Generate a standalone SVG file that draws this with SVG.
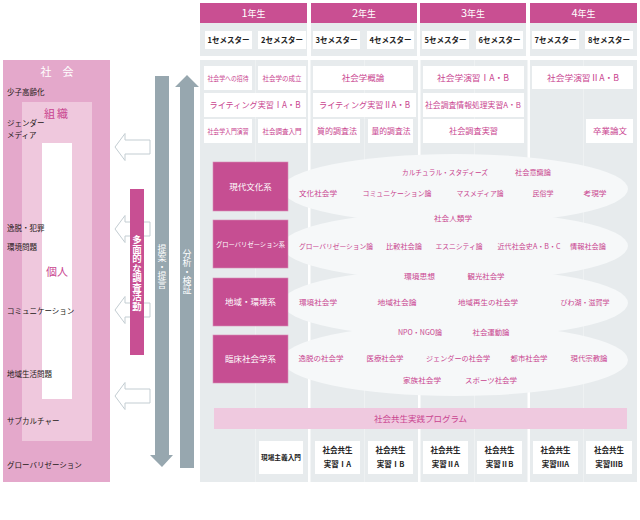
<svg xmlns="http://www.w3.org/2000/svg" width="640" height="520" viewBox="0 0 640 520">
<style>
text{font-family:"Noto Sans CJK JP","Noto Sans",sans-serif}
.yr{fill:#c94f92}
.yt{fill:#fff;font-size:9px;text-anchor:middle}
.sem{fill:#fff}
.st{fill:#222;font-size:7.5px;font-weight:bold;text-anchor:middle}
.cb{fill:#fff}
.ct{fill:#c9448f;font-size:8.5px;text-anchor:middle}
.cat{fill:#c64e92;stroke:#d78db6;stroke-width:0.6}
.catt{fill:#fff;font-size:8.5px;text-anchor:middle}
.el{fill:#f6f8f9}
.et{fill:#c9448f;font-size:7.2px;text-anchor:middle}
.lt{fill:#231815;font-size:7.5px}
.ha{fill:#fff;stroke:#c3cdd2;stroke-width:1}
.ga{fill:#97a7af}
.vt{fill:#fff;writing-mode:vertical-rl;text-orientation:upright;text-anchor:middle}
.bt{fill:#222;font-size:7.5px;font-weight:bold;text-anchor:middle}
</style>
<rect width="640" height="520" fill="#fff"/>
<!-- header -->
<g id="header">
<rect x="200" y="23" width="437" height="33" fill="#e7ebed"/>
<rect class="yr" x="200" y="3" width="107" height="20"/>
<rect class="yr" x="311" y="3" width="106" height="20"/>
<rect class="yr" x="420" y="3" width="106" height="20"/>
<rect class="yr" x="530" y="3" width="107" height="20"/>
<text class="yt" x="253.5" y="17"><tspan style="font-size:11px">1</tspan>年生</text>
<text class="yt" x="364" y="17"><tspan style="font-size:11px">2</tspan>年生</text>
<text class="yt" x="473" y="17"><tspan style="font-size:11px">3</tspan>年生</text>
<text class="yt" x="583.5" y="17"><tspan style="font-size:11px">4</tspan>年生</text>
<rect x="307" y="3" width="4" height="53" fill="#fff"/>
<rect x="417" y="3" width="3" height="53" fill="#fff"/>
<rect x="526" y="3" width="4" height="53" fill="#fff"/>
<rect class="sem" x="205" y="31" width="47" height="18"/>
<rect class="sem" x="258" y="31" width="48" height="18"/>
<rect class="sem" x="313" y="31" width="47" height="18"/>
<rect class="sem" x="367" y="31" width="47" height="18"/>
<rect class="sem" x="422" y="31" width="47" height="18"/>
<rect class="sem" x="476" y="31" width="47" height="18"/>
<rect class="sem" x="532" y="31" width="47" height="18"/>
<rect class="sem" x="585" y="31" width="48" height="18"/>
<text class="st" x="228.5" y="43">1セメスター</text>
<text class="st" x="282" y="43">2セメスター</text>
<text class="st" x="336.5" y="43">3セメスター</text>
<text class="st" x="390.5" y="43">4セメスター</text>
<text class="st" x="445.5" y="43">5セメスター</text>
<text class="st" x="499.5" y="43">6セメスター</text>
<text class="st" x="555.5" y="43">7セメスター</text>
<text class="st" x="609" y="43">8セメスター</text>
</g>
<!-- body background -->
<g id="body-bg">
<rect x="200" y="60" width="437" height="422" fill="#e7ebed"/>
<rect x="255" y="60" width="1" height="422" fill="#eef1f2"/>
<rect x="364" y="60" width="1" height="422" fill="#eef1f2"/>
<rect x="474" y="60" width="1" height="422" fill="#eef1f2"/>
<rect x="583" y="60" width="1" height="422" fill="#eef1f2"/>
<rect x="308" y="60" width="2.5" height="422" fill="#fff"/>
<rect x="418" y="60" width="2.5" height="422" fill="#fff"/>
<rect x="527.5" y="60" width="2.5" height="422" fill="#fff"/>
</g>
<!-- courses -->
<g id="courses">
<rect class="cb" x="204" y="66" width="48" height="24"/>
<rect class="cb" x="258" y="66" width="48" height="24"/>
<rect class="cb" x="313" y="66" width="100" height="24"/>
<rect class="cb" x="204" y="93" width="102" height="24"/>
<rect class="cb" x="313" y="93" width="103" height="24"/>
<rect class="cb" x="204" y="119" width="48" height="24"/>
<rect class="cb" x="258" y="119" width="48" height="24"/>
<rect class="cb" x="313" y="119" width="47" height="24"/>
<rect class="cb" x="368" y="119" width="45" height="24"/>
<rect class="cb" x="423" y="66" width="101" height="23"/>
<rect class="cb" x="532" y="66" width="101" height="23"/>
<rect class="cb" x="423" y="93" width="101" height="24"/>
<rect class="cb" x="423" y="119" width="101" height="24"/>
<rect class="cb" x="586" y="119" width="47" height="24"/>
<text class="ct" x="228" y="81" style="font-size:6.5px" textLength="41" lengthAdjust="spacingAndGlyphs">社会学への招待</text>
<text class="ct" x="282" y="81" style="font-size:7px" textLength="39" lengthAdjust="spacingAndGlyphs">社会学の成立</text>
<text class="ct" x="363" y="81">社会学概論</text>
<text class="ct" x="255" y="108" textLength="91" lengthAdjust="spacingAndGlyphs">ライティング実習ⅠA・B</text>
<text class="ct" x="364.5" y="108" textLength="91" lengthAdjust="spacingAndGlyphs">ライティング実習ⅡA・B</text>
<text class="ct" x="228" y="134" style="font-size:6.5px" textLength="41" lengthAdjust="spacingAndGlyphs">社会学入門演習</text>
<text class="ct" x="282" y="134" style="font-size:7px" textLength="39" lengthAdjust="spacingAndGlyphs">社会調査入門</text>
<text class="ct" x="337" y="134" style="font-size:8px" textLength="40" lengthAdjust="spacingAndGlyphs">質的調査法</text>
<text class="ct" x="391" y="134" style="font-size:8px" textLength="39" lengthAdjust="spacingAndGlyphs">量的調査法</text>
<text class="ct" x="473" y="81" textLength="72" lengthAdjust="spacingAndGlyphs">社会学演習ⅠA・B</text>
<text class="ct" x="583" y="81" textLength="72" lengthAdjust="spacingAndGlyphs">社会学演習ⅡA・B</text>
<text class="ct" x="473" y="108" style="font-size:8px" textLength="96" lengthAdjust="spacingAndGlyphs">社会調査情報処理実習A・B</text>
<text class="ct" x="473.5" y="134" style="font-size:8px" textLength="49" lengthAdjust="spacingAndGlyphs">社会調査実習</text>
<text class="ct" x="610" y="134" textLength="34" lengthAdjust="spacingAndGlyphs">卒業論文</text>
</g>
<!-- ellipses -->
<g id="fields">
<ellipse class="el" cx="455" cy="189" rx="173" ry="35"/>
<ellipse class="el" cx="455" cy="246" rx="173" ry="35"/>
<ellipse class="el" cx="455" cy="303" rx="173" ry="35"/>
<ellipse class="el" cx="455" cy="360" rx="173" ry="36"/>
</g>
<g id="categories">
<g id="cat-gendai"><rect class="cat" x="213" y="162" width="75" height="49"/><text class="catt" x="250.5" y="190">現代文化系</text></g>
<g id="cat-global"><rect class="cat" x="213" y="220" width="75" height="48"/><text class="catt" x="250.5" y="247" style="font-size:6.3px" textLength="69" lengthAdjust="spacingAndGlyphs">グローバリゼーション系</text></g>
<g id="cat-chiiki"><rect class="cat" x="213" y="278" width="75" height="48"/><text class="catt" x="250.5" y="305">地域・環境系</text></g>
<g id="cat-rinsho"><rect class="cat" x="213" y="335" width="75" height="48"/><text class="catt" x="250.5" y="362">臨床社会学系</text></g>
</g>
<g id="field-texts">
<text class="et" x="445" y="174.5" textLength="86" lengthAdjust="spacingAndGlyphs">カルチュラル・スタディーズ</text>
<text class="et" x="533" y="174.5" textLength="36" lengthAdjust="spacingAndGlyphs">社会意識論</text>
<text class="et" x="318" y="195.5" textLength="38" lengthAdjust="spacingAndGlyphs">文化社会学</text>
<text class="et" x="397" y="195.5" textLength="69" lengthAdjust="spacingAndGlyphs">コミュニケーション論</text>
<text class="et" x="480" y="195.5" textLength="47" lengthAdjust="spacingAndGlyphs">マスメディア論</text>
<text class="et" x="543" y="195.5" textLength="21" lengthAdjust="spacingAndGlyphs">民俗学</text>
<text class="et" x="595" y="195.5" textLength="23" lengthAdjust="spacingAndGlyphs">考現学</text>
<text class="et" x="453" y="220.5" textLength="38" lengthAdjust="spacingAndGlyphs">社会人類学</text>
<text class="et" x="336" y="248.5" style="font-size:6.6px" textLength="74" lengthAdjust="spacingAndGlyphs">グローバリゼーション論</text>
<text class="et" x="404" y="248.5" textLength="36" lengthAdjust="spacingAndGlyphs">比較社会論</text>
<text class="et" x="459" y="248.5" textLength="47" lengthAdjust="spacingAndGlyphs">エスニシティ論</text>
<text class="et" x="529" y="248.5" textLength="63" lengthAdjust="spacingAndGlyphs">近代社会史A・B・C</text>
<text class="et" x="588" y="248.5" textLength="36" lengthAdjust="spacingAndGlyphs">情報社会論</text>
<text class="et" x="419.5" y="278.5" textLength="31" lengthAdjust="spacingAndGlyphs">環境思想</text>
<text class="et" x="486" y="278.5" textLength="37" lengthAdjust="spacingAndGlyphs">観光社会学</text>
<text class="et" x="318" y="304.5" textLength="38" lengthAdjust="spacingAndGlyphs">環境社会学</text>
<text class="et" x="397" y="304.5" textLength="39" lengthAdjust="spacingAndGlyphs">地域社会論</text>
<text class="et" x="488" y="304.5" textLength="60" lengthAdjust="spacingAndGlyphs">地域再生の社会学</text>
<text class="et" x="585" y="304.5" textLength="49" lengthAdjust="spacingAndGlyphs">びわ湖・滋賀学</text>
<text class="et" x="420" y="334.5" textLength="44" lengthAdjust="spacingAndGlyphs">NPO・NGO論</text>
<text class="et" x="491" y="334.5" textLength="37" lengthAdjust="spacingAndGlyphs">社会運動論</text>
<text class="et" x="321" y="360.5" textLength="45" lengthAdjust="spacingAndGlyphs">逸脱の社会学</text>
<text class="et" x="385" y="360.5" textLength="37" lengthAdjust="spacingAndGlyphs">医療社会学</text>
<text class="et" x="458" y="360.5" textLength="64" lengthAdjust="spacingAndGlyphs">ジェンダーの社会学</text>
<text class="et" x="529" y="360.5" textLength="37" lengthAdjust="spacingAndGlyphs">都市社会学</text>
<text class="et" x="589" y="360.5" textLength="37" lengthAdjust="spacingAndGlyphs">現代宗教論</text>
<text class="et" x="422" y="382.5" textLength="38" lengthAdjust="spacingAndGlyphs">家族社会学</text>
<text class="et" x="491" y="382.5" textLength="52" lengthAdjust="spacingAndGlyphs">スポーツ社会学</text>
</g>
<!-- program -->
<g id="program">
<rect x="214" y="408" width="413" height="21" fill="#efc9df"/>
<text x="420.5" y="422" fill="#c9448f" font-size="8.5" text-anchor="middle">社会共生実践プログラム</text>
<rect class="cb" x="259" y="441" width="44" height="33"/>
<rect class="cb" x="315" y="441" width="45" height="33"/>
<rect class="cb" x="368" y="441" width="45" height="33"/>
<rect class="cb" x="423" y="441" width="45" height="33"/>
<rect class="cb" x="477" y="441" width="45" height="33"/>
<rect class="cb" x="533" y="441" width="45" height="33"/>
<rect class="cb" x="586" y="441" width="46" height="33"/>
<text class="bt" x="281" y="460" style="font-size:6.6px" textLength="40" lengthAdjust="spacingAndGlyphs">現場主義入門</text>
<text class="bt" x="337.5" y="453">社会共生</text><text class="bt" x="337.5" y="467">実習ⅠA</text>
<text class="bt" x="390.5" y="453">社会共生</text><text class="bt" x="390.5" y="467">実習ⅠB</text>
<text class="bt" x="445.5" y="453">社会共生</text><text class="bt" x="445.5" y="467">実習ⅡA</text>
<text class="bt" x="499.5" y="453">社会共生</text><text class="bt" x="499.5" y="467">実習ⅡB</text>
<text class="bt" x="555.5" y="453">社会共生</text><text class="bt" x="555.5" y="467">実習ⅢA</text>
<text class="bt" x="609" y="453">社会共生</text><text class="bt" x="609" y="467">実習ⅢB</text>
</g>
<!-- left panel -->
<g id="society">
<rect x="3" y="60" width="107" height="422" fill="#e4a8cb"/>
<text x="57" y="76" fill="#fff" font-size="11" text-anchor="middle"><tspan x="46">社</tspan><tspan x="68">会</tspan></text>
</g>
<g id="organization">
<rect x="22" y="102" width="70" height="339" fill="#efc8dd"/>
<text x="57" y="118" fill="#c9448f" font-size="11" text-anchor="middle" letter-spacing="2">組織</text>
</g>
<g id="individual">
<rect x="42" y="143" width="30" height="256" fill="#fff"/>
<text x="57" y="276" fill="#c9448f" font-size="11" text-anchor="middle">個人</text>
</g>
<g id="topics">
<text class="lt" x="7" y="95">少子高齢化</text>
<text class="lt" x="7" y="126">ジェンダー</text>
<text class="lt" x="7" y="138">メディア</text>
<text class="lt" x="7" y="231">逸脱・犯罪</text>
<text class="lt" x="7" y="250">環境問題</text>
<text class="lt" x="7" y="314">コミュニケーション</text>
<text class="lt" x="7" y="377">地域生活問題</text>
<text class="lt" x="7" y="424">サブカルチャー</text>
<text class="lt" x="7" y="468">グローバリゼーション</text>
</g>
<!-- connectors -->
<g id="connectors">
<path class="ha" d="M115,147 L125,133.5 L125,140 L150,140 L150,154 L125,154 L125,160.5 Z"/>
<path class="ha" d="M115,229 L125,215.5 L125,222 L150,222 L150,236 L125,236 L125,242.5 Z"/>
<path class="ha" d="M115,310 L125,296.5 L125,303 L150,303 L150,317 L125,317 L125,323.5 Z"/>
<path class="ha" d="M115,396 L125,382.5 L125,389 L150,389 L150,403 L125,403 L125,409.5 Z"/>
<path class="ga" d="M155,76 L169,76 L169,455 L173,455 L162,467 L150,455 L155,455 Z"/>
<path class="ga" d="M187,75 L199,87 L194,87 L194,468 L180,468 L180,87 L175,87 Z"/>
</g>
<g id="research">
<rect x="130" y="189" width="14" height="166" fill="#c84f93"/>
<text class="vt" x="137" y="273" font-size="9.5" font-weight="bold">多面的な調査活動</text>
</g>
<g id="labels">
<text class="vt" x="162" y="267" font-size="9">提案・提言</text>
<text class="vt" x="187" y="272" font-size="9">分析・検証</text>
</g>
</svg>
